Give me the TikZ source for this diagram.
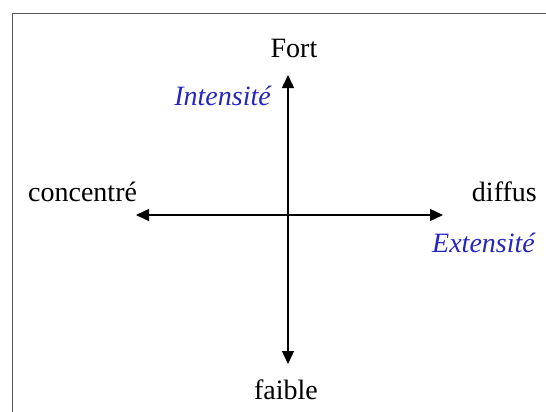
\documentclass[tikz,border=0pt]{standalone}
\usepackage{fontspec}
\setmainfont{Liberation Serif}
\usetikzlibrary{arrows.meta}

\begin{document}
\begin{tikzpicture}[x=1pt, y=-1pt, font=\fontsize{28}{33}\selectfont]

\tikzstyle{pole}=[inner sep=0pt, anchor=base]
\tikzstyle{axisname}=[pole, text=axisblue, font=\fontsize{28}{33}\selectfont\itshape]
\tikzstyle{axisarrow}=[{Triangle[length=13pt,width=12pt]}-{Triangle[length=13pt,width=12pt]}, line width=1.4pt]

\definecolor{axisblue}{RGB}{38,38,190}
\definecolor{framegray}{RGB}{85,85,85}

\useasboundingbox (0,0) rectangle (546,412);
\clip (0,0) rectangle (546,412);
\draw [framegray, line width=1.5pt] (12.5,13.5) rectangle (570,440);

% ends of the two axes
\coordinate (top)   at (288,75);
\coordinate (bot)   at (288,364);
\coordinate (left)  at (136,215);
\coordinate (right) at (443,215);

\node (fort)   [pole] at (294,58)  {Fort};
\node (faible) [pole] at (286,399) {faible};
\node (conc)   [pole, anchor=base west] at (28,201) {concentré};
\node (diff)   [pole, anchor=base east] at (537,201) {diffus};

\node (inten)  [axisname, anchor=base east] at (271,105) {Intensité};
\node (exten)  [axisname, anchor=base east] at (535,252) {Extensité};

\draw [axisarrow] (bot) -- (top);
\draw [axisarrow] (left) -- (right);

\end{tikzpicture}
\end{document}
